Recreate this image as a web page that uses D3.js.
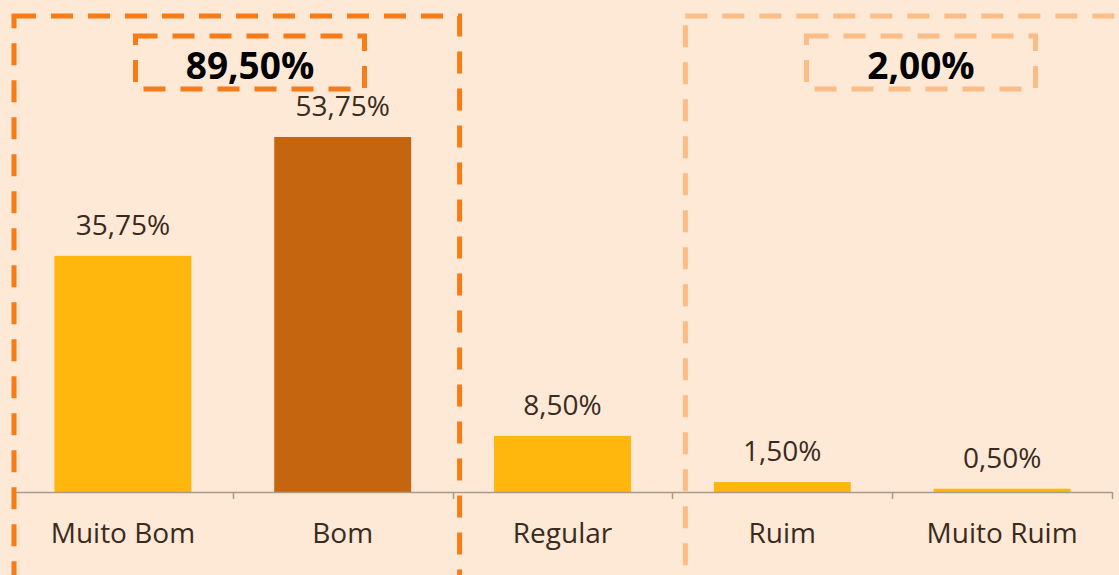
<!DOCTYPE html>
<html><head><meta charset="utf-8">
<script src="https://cdn.jsdelivr.net/npm/d3@7"></script>
<style>
html,body{margin:0;padding:0;background:#FEE9D7;}
svg{display:block;}
</style></head>
<body>
<script>
const categories = ["Muito Bom", "Bom", "Regular", "Ruim", "Muito Ruim"];
const values = [35.75, 53.75, 8.50, 1.50, 0.50];
const barColors = ["#FFB60D", "#C5650F", "#FFB60D", "#FFB60D", "#FFB60D"];
const groupMembers = [["Muito Bom", "Bom"], ["Ruim", "Muito Ruim"]];
const groupColors = ["#F77B17", "#FCBC85"];

const W = 1119, H = 575;
const fmt = v => v.toFixed(2).replace(".", ",") + "%";

const svg = d3.select("body").append("svg").attr("width", W).attr("height", H);
svg.append("rect").attr("width", W).attr("height", H).attr("fill", "#FEE9D7");

const x = d3.scaleBand().domain(categories).range([13, 1112]).paddingInner(0.377).paddingOuter(0.377/2);
const baseY = 492;
const y = d3.scaleLinear().domain([0, 60]).range([baseY, baseY - 60 * 6.605]);

// bars
svg.selectAll("rect.bar").data(categories).enter().append("rect")
  .attr("class", "bar")
  .attr("x", d => x(d))
  .attr("width", x.bandwidth())
  .attr("y", (d, i) => y(values[i]))
  .attr("height", (d, i) => baseY - y(values[i]))
  .attr("fill", (d, i) => barColors[i]);

// axis
const step = x.step();
const ax = svg.append("g").attr("transform", `translate(0,${baseY})`);
ax.append("line").attr("x1", 13).attr("x2", 1112).attr("y1", 0.5).attr("y2", 0.5)
  .attr("stroke", "#A99A89").attr("stroke-width", 1.5);
const bounds = categories.map(c => x(c) - (step - x.bandwidth()) / 2);
bounds.push(1112);
ax.selectAll("line.tk").data(bounds).enter().append("line")
  .attr("class", "tk")
  .attr("x1", d => Math.round(d) + 0.5).attr("x2", d => Math.round(d) + 0.5)
  .attr("y1", 0).attr("y2", 7)
  .attr("stroke", "#A99A89").attr("stroke-width", 1.5);

// category labels
svg.selectAll("text.cat").data(categories).enter().append("text")
  .attr("class", "cat")
  .attr("x", d => x(d) + x.bandwidth() / 2)
  .attr("y", 543)
  .attr("text-anchor", "middle")
  .attr("font-family", "Open Sans, sans-serif")
  .attr("font-size", 28)
  .attr("fill", "#3A2B1C")
  .text(d => d);

// value labels
svg.selectAll("text.val").data(categories).enter().append("text")
  .attr("class", "val")
  .attr("x", d => x(d) + x.bandwidth() / 2)
  .attr("y", (d, i) => y(values[i]) - 21)
  .attr("text-anchor", "middle")
  .attr("font-family", "Open Sans, sans-serif")
  .attr("font-size", 28)
  .attr("fill", "#3A2B1C")
  .text((d, i) => fmt(values[i]));

// group boxes
groupMembers.forEach((g, gi) => {
  const total = d3.sum(g, c => values[categories.indexOf(c)]);
  const col = groupColors[gi];
  const left = (x(g[0]) - (step - x.bandwidth()) / 2) + (gi === 0 ? 1 : 13);
  const right = gi === 0 ? x(g[g.length - 1]) + x.bandwidth() + (step - x.bandwidth()) / 2 + 7 : W + 40;
  svg.append("rect")
    .attr("x", left).attr("y", 16)
    .attr("width", right - left).attr("height", H + 40)
    .attr("fill", "none").attr("stroke", col).attr("stroke-width", 5)
    .attr("stroke-dasharray", "22 15");
  const cx = gi === 0 ? 250 : 921;
  const bw = 229;
  svg.append("rect")
    .attr("x", cx - bw / 2).attr("y", 36)
    .attr("width", bw).attr("height", 53)
    .attr("fill", "none").attr("stroke", col).attr("stroke-width", 5)
    .attr("stroke-dasharray", "22 15");
  svg.append("text")
    .attr("x", cx).attr("y", 79)
    .attr("text-anchor", "middle")
    .attr("font-family", "Open Sans, sans-serif")
    .attr("font-weight", "bold")
    .attr("font-size", 37)
    .attr("fill", "#000")
    .text(fmt(total));
});
</script>
</body></html>
